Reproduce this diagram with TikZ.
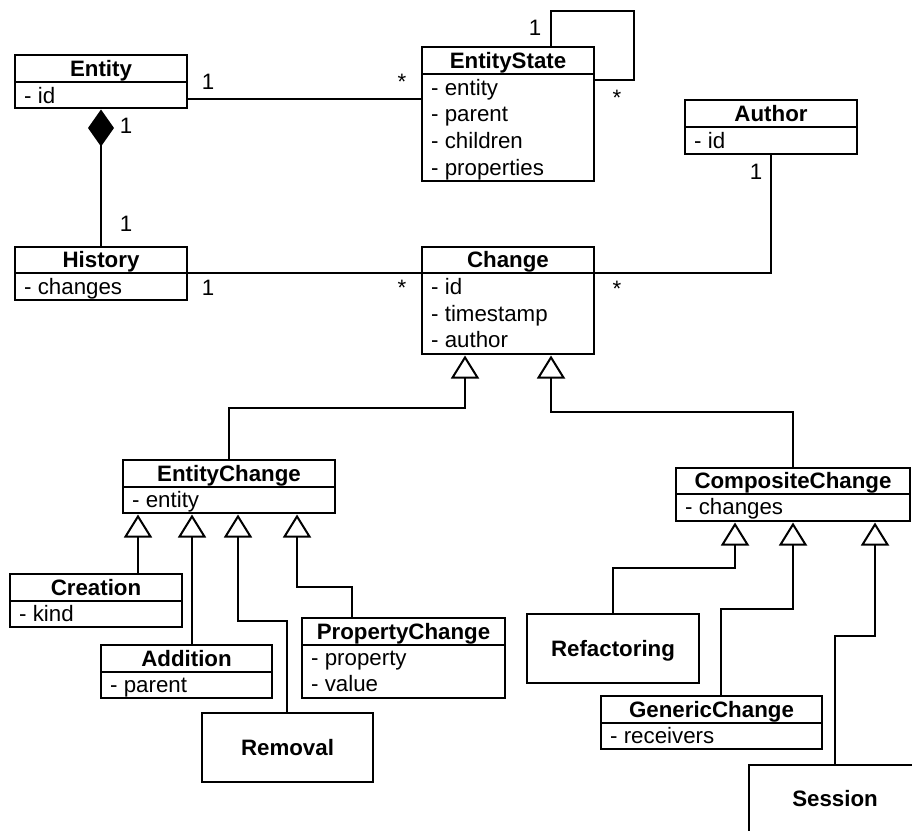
\documentclass[tikz,border=0pt]{standalone}
\usepackage{fontspec}
\setmainfont{Liberation Sans}
\usetikzlibrary{arrows.meta,calc}

\newcommand\klass[7]{%
  \pgfmathsetmacro\kw{#4-#2}\pgfmathsetmacro\kh{#5-#3}%
  \node[classbox, minimum width=\kw pt, minimum height=\kh pt] (#1) at ({(#2+#4)/2},{(#3+#5)/2}) {};
  \if\relax\detokenize{#6}\relax
    \node[ttl] (#1-t) at ({(#2+#4)/2},{(#3+#5)/2+7.5}) {#7};
  \else
    \draw[ln] (#2,#6) -- (#4,#6);
    \node[ttl] (#1-t) at ({(#2+#4)/2},{(#3+#6)/2+7.5}) {#7};
  \fi
}
\newcommand\attr[4]{\node[att] (#1) at (#2,#3) {#4};}

\begin{document}
\begin{tikzpicture}[x=1pt,y=-1pt,
  font=\fontsize{22.3pt}{27pt}\selectfont,
  ln/.style={line width=2pt},
  classbox/.style={draw, line width=2pt, inner sep=0pt, outer sep=0pt, rectangle},
  ttl/.style={font=\fontsize{22.3pt}{27pt}\selectfont\bfseries, anchor=base, inner sep=0pt},
  att/.style={anchor=base west, inner sep=0pt},
  mult/.style={anchor=base, inner sep=0pt},
  gen/.style={ln, -{Triangle[open, length=23pt, width=28pt]}, shorten >=1.5pt},
  comp/.style={ln, {Diamond[length=37pt, width=26pt]}-, shorten <=1.5pt},
]
\useasboundingbox (0,0) rectangle (912,830);
\clip (0,0) rectangle (912,830);

% classes
\klass{entity}{15}{55}{187}{108}{82}{Entity}
\attr{ea1}{24}{103}{- id}

\klass{estate}{422}{47}{594}{181}{74}{EntityState}
\attr{es1}{431}{95}{- entity}
\attr{es2}{431}{121.7}{- parent}
\attr{es3}{431}{148.5}{- children}
\attr{es4}{431}{175}{- properties}

\klass{author}{685}{100}{857}{154}{127}{Author}
\attr{au1}{694}{148}{- id}

\klass{history}{15}{247}{187}{300}{273}{History}
\attr{hi1}{24}{294.5}{- changes}

\klass{change}{422}{247}{594}{354}{273}{Change}
\attr{ch1}{431}{294.5}{- id}
\attr{ch2}{431}{321}{- timestamp}
\attr{ch3}{431}{347.5}{- author}

\klass{echange}{123}{460}{335}{513}{487}{EntityChange}
\attr{ec1}{132}{507.5}{- entity}

\klass{creation}{10}{574}{182}{627}{601}{Creation}
\attr{cr1}{19}{621.5}{- kind}

\klass{addition}{101}{645}{272}{698}{672}{Addition}
\attr{ad1}{110}{692}{- parent}

\klass{removal}{202}{713}{373}{782}{}{Removal}

\klass{propchange}{302}{618}{505}{698}{645}{PropertyChange}
\attr{pc1}{311}{665}{- property}
\attr{pc2}{311}{691.5}{- value}

\klass{cchange}{676}{468}{910}{521}{494}{CompositeChange}
\attr{cc1}{685}{514.5}{- changes}

\klass{refactoring}{527}{614}{699}{683}{}{Refactoring}

\klass{generic}{601}{696}{822}{749}{723}{GenericChange}
\attr{gc1}{610}{743}{- receivers}

\klass{session}{749}{765}{921}{833}{}{Session}

% associations
\draw[ln] ($(entity.south east)+(0,-9)$) -- ($(estate.north west)+(0,52)$);
\node[mult] (m1) at (208,89) {1};
\node[mult] (m2) at (402,89) {*};

\draw[comp] (entity.south) -- (history.north);
\node[mult] (m3) at (126,133.5) {1};
\node[mult] (m4) at (126,231.5) {1};

\draw[ln] ($(estate.north west)+(129,0)$) -- ++(0,-36) -- ++(83,0) -- ++(0,69) -- ($(estate.north east)+(0,33)$);
\node[mult] (m5) at (535,35.5) {1};
\node[mult] (m6) at (617,105) {*};

\draw[ln] (author.south) |- ($(change.north east)+(0,26)$);
\node[mult] (m7) at (756,179) {1};
\node[mult] (m8) at (617,296) {*};

\draw[ln] ($(history.north east)+(0,26)$) -- ($(change.north west)+(0,26)$);
\node[mult] (m9) at (208,295) {1};
\node[mult] (m10) at (402,295) {*};

% generalizations
\draw[gen] (echange.north) -- ++(0,-52) -| ($(change.south west)+(43,0)$);
\draw[gen] ($(cchange.north west)+(117,0)$) -- ++(0,-56) -| ($(change.south west)+(129,0)$);

\draw[gen] ($(creation.north west)+(128,0)$) -- ($(echange.south west)+(15,0)$);
\draw[gen] ($(addition.north west)+(91,0)$) -- ($(echange.south west)+(69,0)$);
\draw[gen] ($(removal.north west)+(85,0)$) -- ++(0,-92) -| ($(echange.south west)+(115,0)$);
\draw[gen] ($(propchange.north west)+(50,0)$) -- ++(0,-31) -| ($(echange.south west)+(174,0)$);

\draw[gen] ($(refactoring.north west)+(86,0)$) -- ++(0,-46) -| ($(cchange.south west)+(59,0)$);
\draw[gen] ($(generic.north west)+(120,0)$) -- ++(0,-87) -| ($(cchange.south west)+(117,0)$);
\draw[gen] ($(session.north west)+(86,0)$) -- ++(0,-129) -| ($(cchange.south west)+(199,0)$);
\end{tikzpicture}
\end{document}
